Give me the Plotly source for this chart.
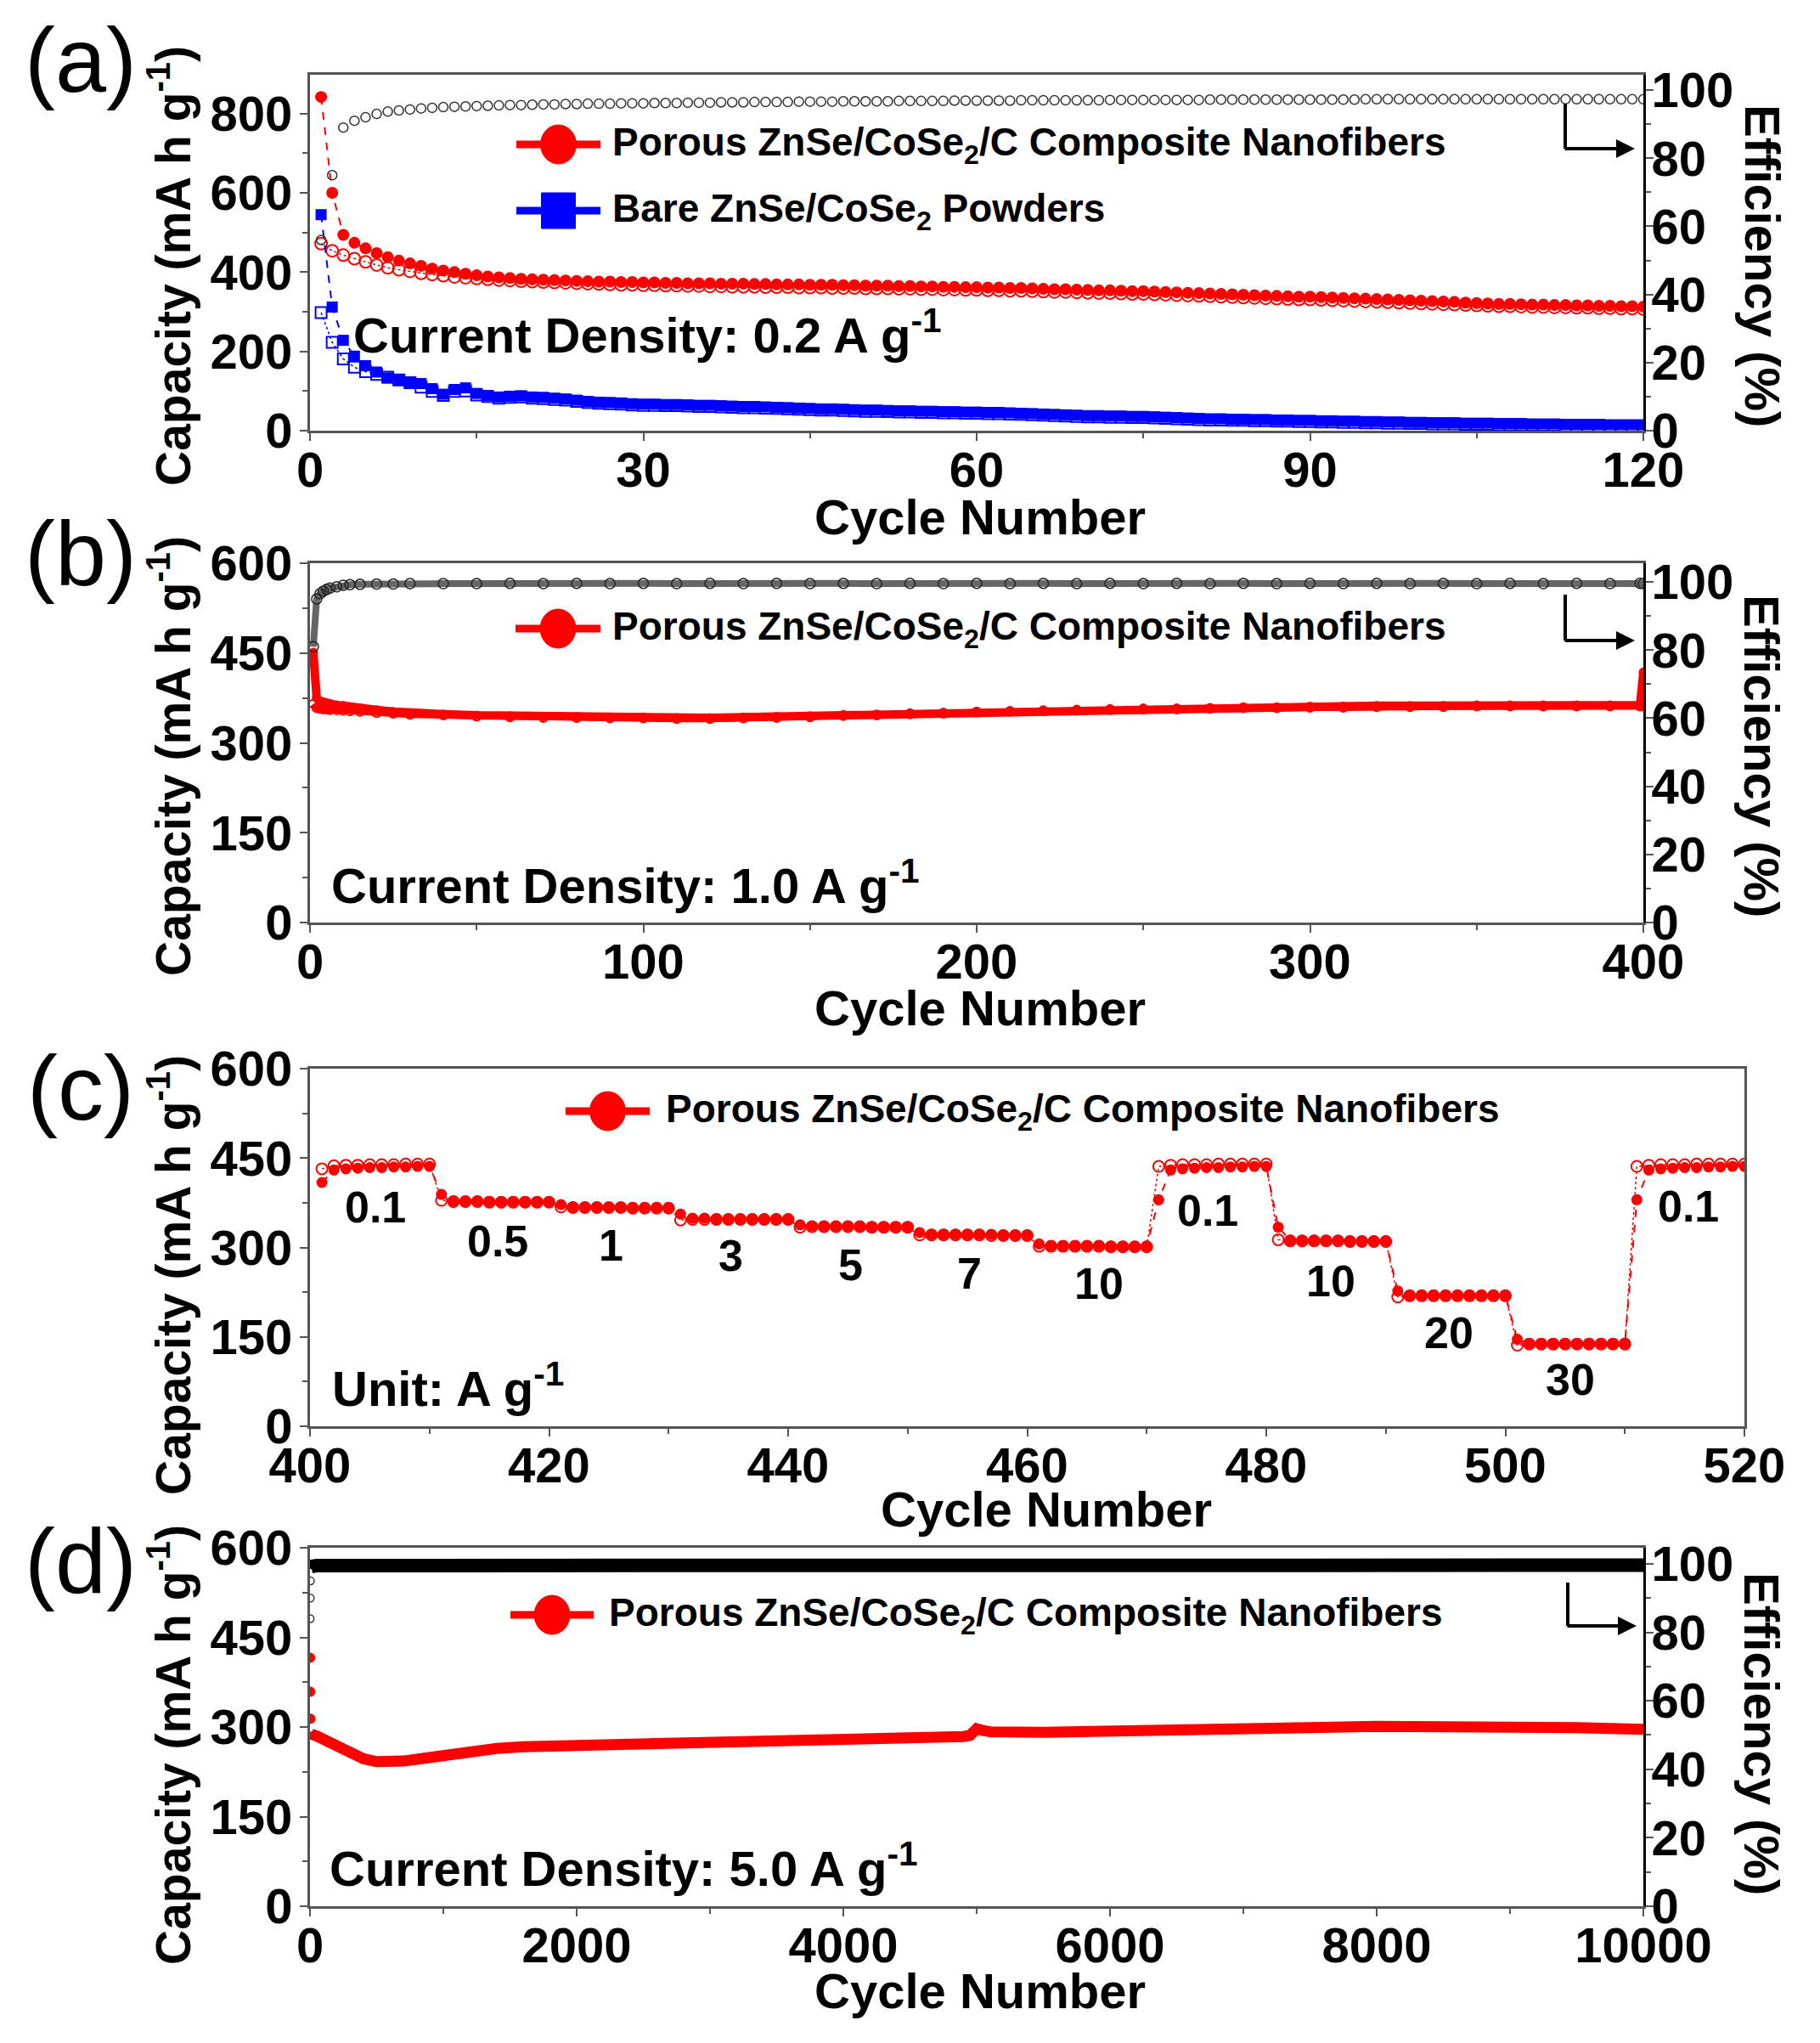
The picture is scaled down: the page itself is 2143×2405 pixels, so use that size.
import plotly.graph_objects as go

# ---- data ----
# (a) 0.2 A/g, 120 cycles
cycle_a = list(range(1, 121))
red_dis_a = [842, 600, 494, 474, 460, 448, 438, 429, 422, 416,
             409, 404, 400, 396, 392, 389, 387, 385, 383, 382,
             381, 380, 379, 378, 377, 376, 376, 375, 375, 374,
             374, 373, 373, 372, 372, 372, 371, 371, 371, 370,
             370, 369, 369, 369, 368, 368, 368, 367, 367, 366,
             366, 366, 365, 365, 364, 364, 363, 363, 362, 362,
             361, 361, 360, 360, 359, 358, 357, 357, 356, 355,
             354, 354, 353, 352, 352, 351, 350, 349, 348, 347,
             346, 345, 344, 343, 342, 341, 340, 339, 338, 338,
             337, 336, 335, 334, 333, 332, 331, 330, 329, 328,
             327, 326, 325, 323, 322, 321, 320, 320, 319, 318,
             318, 317, 317, 316, 316, 315, 315, 314, 314, 313]
red_cha_a = [472, 454, 443, 434, 426, 418, 411, 406, 402, 397,
             394, 391, 388, 386, 384, 382, 380, 379, 377, 376,
             375, 374, 373, 372, 371, 370, 369, 368, 368, 367,
             367, 366, 366, 365, 365, 364, 364, 363, 363, 363,
             362, 362, 362, 361, 361, 361, 360, 360, 360, 359,
             359, 359, 358, 358, 357, 357, 356, 356, 355, 355,
             354, 354, 353, 353, 352, 351, 350, 350, 349, 348,
             347, 347, 346, 345, 345, 344, 343, 342, 341, 340,
             339, 338, 337, 336, 335, 334, 333, 332, 331, 331,
             330, 329, 328, 327, 326, 325, 324, 323, 322, 321,
             320, 319, 318, 317, 316, 315, 314, 314, 313, 312,
             312, 311, 311, 310, 310, 309, 309, 308, 308, 307]
blue_dis_a = [545, 312, 228, 188, 164, 148, 133, 128, 122, 119,
              106, 92, 104, 108, 94, 89, 85, 87, 88, 85,
              84, 82, 80, 77, 74, 72, 71, 70, 68, 67,
              67, 66, 66, 65, 64, 64, 63, 62, 61, 61,
              60, 59, 58, 57, 56, 55, 55, 54, 53, 52,
              52, 51, 50, 50, 49, 49, 48, 48, 47, 47,
              46, 46, 45, 44, 43, 42, 41, 40, 39, 38,
              38, 37, 37, 36, 36, 35, 34, 33, 32, 31,
              30, 30, 29, 29, 28, 28, 27, 27, 26, 26,
              25, 25, 24, 24, 23, 23, 22, 22, 21, 21,
              20, 20, 20, 19, 19, 19, 18, 18, 18, 17,
              17, 17, 16, 16, 16, 16, 15, 15, 15, 15]
blue_cha_a = [298, 223, 181, 160, 149, 142, 135, 128, 121, 110,
              99, 89, 99, 100, 90, 86, 82, 84, 85, 82,
              81, 79, 77, 74, 71, 69, 68, 67, 65, 64,
              64, 63, 63, 62, 61, 61, 60, 59, 58, 58,
              57, 56, 55, 54, 53, 52, 52, 51, 50, 49,
              49, 48, 47, 47, 46, 46, 45, 45, 44, 44,
              43, 43, 42, 41, 40, 39, 38, 37, 36, 35,
              35, 34, 34, 33, 33, 32, 31, 30, 29, 28,
              27, 27, 26, 26, 25, 25, 24, 24, 23, 23,
              22, 22, 21, 21, 20, 20, 19, 19, 18, 18,
              17, 17, 17, 16, 16, 16, 15, 15, 15, 14,
              14, 14, 13, 13, 13, 13, 12, 12, 12, 12]
eff_a = [56, 75, 89, 91, 92, 93, 93.7, 94, 94.3, 94.6,
         94.8, 95, 95.1, 95.2, 95.3, 95.4, 95.5, 95.6, 95.6, 95.7,
         95.8, 95.8, 95.9, 95.9, 96, 96, 96, 96.1, 96.1, 96.1,
         96.2, 96.2, 96.2, 96.3, 96.3, 96.3, 96.4, 96.4, 96.4, 96.5,
         96.5, 96.5, 96.5, 96.6, 96.6, 96.6, 96.6, 96.7, 96.7, 96.7,
         96.7, 96.7, 96.8, 96.8, 96.8, 96.8, 96.8, 96.9, 96.9, 96.9,
         96.9, 96.9, 96.9, 97, 97, 97, 97, 97, 97, 97,
         97, 97.1, 97.1, 97.1, 97.1, 97.1, 97.1, 97.1, 97.1, 97.1,
         97.2, 97.2, 97.2, 97.2, 97.2, 97.2, 97.2, 97.2, 97.2, 97.2,
         97.2, 97.2, 97.2, 97.2, 97.3, 97.3, 97.3, 97.3, 97.3, 97.3,
         97.3, 97.3, 97.3, 97.3, 97.3, 97.3, 97.3, 97.3, 97.3, 97.3,
         97.3, 97.3, 97.3, 97.3, 97.3, 97.3, 97.3, 97.3, 97.3, 97.3]

# (b) 1.0 A/g, 400 cycles
cycle_b = [1, 2, 3, 4, 5, 6, 8, 10, 12, 15, 20, 25, 30, 40, 50, 60, 70, 80, 90, 100,
           110, 120, 130, 140, 150, 160, 170, 180, 190, 200, 210, 220, 230, 240, 250,
           260, 270, 280, 290, 300, 310, 320, 330, 340, 350, 360, 370, 380, 390, 399, 400]
red_dis_b = [451, 375, 370, 368, 366, 365, 363, 362, 360, 358, 355, 352, 350, 348, 346, 345, 344, 344, 343, 343,
             342, 342, 343, 344, 345, 347, 348, 350, 351, 353, 354, 355, 356, 357, 358,
             358, 359, 360, 360, 361, 361, 362, 362, 362, 363, 363, 363, 363, 363, 363, 418]
red_cha_b = [365, 358, 357, 356, 356, 355, 355, 354, 353, 352, 350, 349, 347, 346, 344, 343, 342, 342, 341, 341,
             340, 340, 341, 342, 343, 345, 346, 348, 349, 351, 352, 353, 354, 355, 356,
             356, 357, 358, 358, 359, 359, 360, 360, 360, 361, 361, 361, 361, 361, 361, 361]
eff_b = [81, 95, 96.5, 97.3, 97.8, 98.2, 98.6, 99, 99.2, 99.3, 99.4, 99.4, 99.5, 99.5, 99.5, 99.6, 99.5, 99.6, 99.5, 99.6,
         99.5, 99.6, 99.5, 99.6, 99.5, 99.6, 99.5, 99.6, 99.5, 99.6, 99.5, 99.6, 99.5, 99.6, 99.5,
         99.6, 99.5, 99.6, 99.5, 99.6, 99.5, 99.6, 99.5, 99.6, 99.5, 99.6, 99.5, 99.6, 99.5, 99.6, 99.5]

# (c) rate test, cycles 401-520
cycle_c = list(range(401, 521))
red_dis_c = [409, 430, 432, 433, 434, 434, 435, 435, 436, 436,
             389, 378, 377, 377, 377, 377, 377, 376, 376, 376,
             372, 368, 368, 368, 367, 367, 367, 367, 367, 367,
             356, 349, 349, 348, 348, 348, 348, 348, 348, 348,
             338, 336, 336, 336, 336, 335, 335, 335, 335, 335,
             325, 322, 322, 322, 322, 322, 322, 321, 321, 321,
             306, 303, 303, 303, 303, 303, 302, 302, 302, 302,
             380, 430, 432, 433, 434, 434, 435, 435, 436, 436,
             334, 312, 312, 312, 312, 312, 311, 311, 311, 311,
             227, 220, 220, 220, 220, 220, 220, 220, 220, 220,
             146, 139, 139, 139, 139, 139, 139, 139, 139, 139,
             380, 430, 432, 433, 434, 434, 435, 435, 436, 436]
red_cha_c = [432, 437, 438, 438, 439, 439, 439, 440, 440, 440,
             379, 377, 377, 377, 376, 376, 376, 376, 376, 376,
             368, 367, 367, 367, 367, 367, 366, 366, 366, 366,
             346, 347, 347, 347, 347, 347, 347, 347, 347, 347,
             334, 335, 335, 335, 335, 335, 334, 334, 334, 334,
             321, 321, 321, 321, 321, 321, 320, 320, 320, 320,
             302, 302, 302, 302, 302, 302, 301, 301, 301, 301,
             436, 438, 439, 439, 439, 440, 440, 440, 440, 440,
             313, 311, 311, 311, 311, 311, 310, 310, 310, 310,
             217, 219, 219, 219, 219, 219, 219, 219, 219, 219,
             136, 138, 138, 138, 138, 138, 138, 138, 138, 138,
             436, 438, 439, 439, 439, 440, 440, 440, 440, 440]
rate_labels = ["0.1", "0.5", "1", "3", "5", "7", "10", "0.1", "10", "20", "30", "0.1"]

# (d) 5.0 A/g, 10000 cycles
cycle_d_early = [1, 2, 3]
red_d_early = [416, 359, 314]
cycle_d = [4, 10, 50, 100, 200, 300, 400, 500, 600, 700, 800, 1000, 1200, 1400, 1600, 1800, 2000,
           2500, 3000, 3500, 4000, 4500, 4900, 4950, 5000, 5050, 5100, 5500, 6000, 6500, 7000,
           7500, 8000, 8500, 9000, 9500, 10000]
red_d = [292, 288, 285, 279, 268, 257, 247, 242, 241, 243, 246, 253, 259, 264, 267, 268, 269,
         271, 272, 274, 278, 281, 284, 286, 297, 294, 292, 291, 292, 294, 297,
         299, 301, 301, 300, 299, 296]
eff_d_early = [84, 90, 95]
cycle_eff_d = [4, 10, 50, 100, 500, 1000, 2000, 3000, 4000, 5000, 6000, 7000, 8000, 9000, 10000]
eff_d = [98.5, 99.2, 99.5, 99.5, 99.6, 99.5, 99.6, 99.5, 99.6, 99.5, 99.6, 99.5, 99.6, 99.5, 99.6]

# ---- figure ----
W, H = 2143, 2405
FONT = "Liberation Sans"
RED, BLUE = "#ff0000", "#0000ff"
AX = "#555555"


def px(x):
    return x / W


def py(y):
    return 1 - y / H


fig = go.Figure()

# panel (a)
fig.add_trace(go.Scatter(x=cycle_a, y=red_cha_a, mode="lines+markers", xaxis="x", yaxis="y",
                         line=dict(color=RED, width=1.5, dash="dot"),
                         marker=dict(symbol="circle-open", size=14, color=RED, line=dict(width=2))))
fig.add_trace(go.Scatter(x=cycle_a, y=red_dis_a, mode="lines+markers", xaxis="x", yaxis="y",
                         line=dict(color=RED, width=2, dash="dash"),
                         marker=dict(symbol="circle", size=14, color=RED)))
fig.add_trace(go.Scatter(x=cycle_a, y=blue_cha_a, mode="lines+markers", xaxis="x", yaxis="y",
                         line=dict(color=BLUE, width=1.5, dash="dot"),
                         marker=dict(symbol="square-open", size=13, color=BLUE, line=dict(width=2))))
fig.add_trace(go.Scatter(x=cycle_a, y=blue_dis_a, mode="lines+markers", xaxis="x", yaxis="y",
                         line=dict(color=BLUE, width=2, dash="dash"),
                         marker=dict(symbol="square", size=13, color=BLUE)))
fig.add_trace(go.Scatter(x=cycle_a, y=eff_a, mode="markers", xaxis="x", yaxis="y2",
                         marker=dict(symbol="circle-open", size=11, color="#333333", line=dict(width=1.5))))

# panel (b)
fig.add_trace(go.Scatter(x=cycle_b, y=red_cha_b, mode="lines+markers", xaxis="x2", yaxis="y3",
                         line=dict(color=RED, width=8),
                         marker=dict(symbol="circle-open", size=10, color=RED, line=dict(width=2))))
fig.add_trace(go.Scatter(x=cycle_b, y=red_dis_b, mode="lines+markers", xaxis="x2", yaxis="y3",
                         line=dict(color=RED, width=10),
                         marker=dict(symbol="circle", size=11, color=RED)))
fig.add_trace(go.Scatter(x=cycle_b, y=eff_b, mode="lines+markers", xaxis="x2", yaxis="y4",
                         line=dict(color="#666666", width=8),
                         marker=dict(symbol="circle-open", size=12, color="#222222", line=dict(width=1.5))))

# panel (c)
fig.add_trace(go.Scatter(x=cycle_c, y=red_cha_c, mode="lines+markers", xaxis="x3", yaxis="y5",
                         line=dict(color=RED, width=1.5, dash="dot"),
                         marker=dict(symbol="circle-open", size=13, color=RED, line=dict(width=2))))
fig.add_trace(go.Scatter(x=cycle_c, y=red_dis_c, mode="lines+markers", xaxis="x3", yaxis="y5",
                         line=dict(color=RED, width=2, dash="dash"),
                         marker=dict(symbol="circle", size=13, color=RED)))

# panel (d)
fig.add_trace(go.Scatter(x=cycle_d_early, y=red_d_early, mode="markers", xaxis="x4", yaxis="y6",
                         marker=dict(symbol="circle", size=12, color=RED)))
fig.add_trace(go.Scatter(x=cycle_d, y=red_d, mode="lines", xaxis="x4", yaxis="y6",
                         line=dict(color=RED, width=13)))
fig.add_trace(go.Scatter(x=cycle_d_early, y=eff_d_early, mode="markers", xaxis="x4", yaxis="y7",
                         marker=dict(symbol="circle-open", size=9, color="#333333", line=dict(width=1.5))))
fig.add_trace(go.Scatter(x=cycle_eff_d, y=eff_d, mode="lines", xaxis="x4", yaxis="y7",
                         line=dict(color="black", width=16)))

tickfont = dict(family=FONT, size=58, color="black", weight="bold")


def xax(dom, anchor, rng, dtick, minor):
    return dict(domain=dom, anchor=anchor, range=rng, dtick=dtick, tick0=rng[0], tickformat="d",
                showline=True, linecolor=AX, linewidth=3, mirror=True, automargin=False,
                ticks="outside", ticklen=9, tickwidth=2, tickcolor=AX,
                minor=dict(ticks="outside", ticklen=6, dtick=minor, tickcolor=AX),
                tickfont=tickfont, showgrid=False, zeroline=False, ticklabelstandoff=-16)


def yax(dom, anchor, rng, dtick, minor):
    return dict(domain=dom, anchor=anchor, range=rng, dtick=dtick, tick0=0, automargin=False,
                showline=True, linecolor=AX, linewidth=3, mirror=True,
                ticks="outside", ticklen=9, tickwidth=2, tickcolor=AX,
                minor=dict(ticks="outside", ticklen=6, dtick=minor, tickcolor=AX),
                tickfont=tickfont, showgrid=False, zeroline=False, ticklabelstandoff=-3)


def y2ax(over, anchor, rng):
    return dict(overlaying=over, anchor=anchor, side="right", range=rng, dtick=20, tick0=0,
                showline=True, linecolor="black", linewidth=3, automargin=False,
                ticks="outside", ticklen=9, tickwidth=2, tickcolor=AX,
                minor=dict(ticks="outside", ticklen=6, dtick=10, tickcolor=AX),
                tickfont=tickfont, showgrid=False, zeroline=False, ticklabelstandoff=-14)


xd = [px(357), px(1927)]
dom_a = [py(499), py(80)]
dom_b = [py(1078), py(655)]
dom_c = [py(1671), py(1250)]
dom_d = [py(2236), py(1814)]

fig.update_layout(
    width=W, height=H, margin=dict(l=0, r=0, t=0, b=0, autoexpand=False),
    paper_bgcolor="white", plot_bgcolor="white", showlegend=False,
    xaxis=xax(xd, "y", [0, 120], 30, 15),
    yaxis=yax(dom_a, "x", [0, 898], 200, 100),
    yaxis2=y2ax("y", "x", [0, 104.5]),
    xaxis2=xax(xd, "y3", [0, 400], 100, 50),
    yaxis3=yax(dom_b, "x2", [0, 600], 150, 75),
    yaxis4=y2ax("y3", "x2", [0, 105.5]),
    xaxis3=xax([px(357), px(2046)], "y5", [400, 520], 20, 10),
    yaxis5=yax(dom_c, "x3", [0, 600], 150, 75),
    xaxis4=xax(xd, "y6", [0, 10000], 2000, 1000),
    yaxis6=yax(dom_d, "x4", [0, 600], 150, 75),
    yaxis7=y2ax("y6", "x4", [0, 104.7]),
)

ann = []
shapes = []


def text(x, y, s, size, bold=True, angle=0, xanchor="center"):
    ann.append(dict(x=px(x), y=py(y), xref="paper", yref="paper", text=s, showarrow=False,
                    textangle=angle, xanchor=xanchor, yanchor="middle",
                    font=dict(family=FONT, size=size, color="black",
                              weight="bold" if bold else "normal")))


def legend_item(x0, x1, y, color, symbol, tx, label):
    cx = (x0 + x1) / 2
    shapes.append(dict(type="line", xref="paper", yref="paper", x0=px(x0), x1=px(x1),
                       y0=py(y), y1=py(y), line=dict(color=color, width=9)))
    if symbol == "circle":
        shapes.append(dict(type="circle", xref="paper", yref="paper", x0=px(cx - 21), x1=px(cx + 21),
                           y0=py(y + 23), y1=py(y - 23), fillcolor=color, line=dict(color=color, width=1)))
    else:
        shapes.append(dict(type="rect", xref="paper", yref="paper", x0=px(cx - 20), x1=px(cx + 20),
                           y0=py(y + 21), y1=py(y - 21), fillcolor=color, line=dict(color=color, width=1)))
    text(tx, y, label, 46, xanchor="left")


def bent_arrow(x, y0, y1, x1):
    shapes.append(dict(type="line", xref="paper", yref="paper", x0=px(x), x1=px(x),
                       y0=py(y0), y1=py(y1), line=dict(color="black", width=4)))
    ann.append(dict(x=px(x1), y=py(y1), xref="paper", yref="paper", text="", showarrow=True,
                    axref="pixel", ayref="pixel", ax=-(x1 - x) - 2, ay=0,
                    arrowhead=2, arrowsize=1.1, arrowwidth=4, arrowcolor="black"))


cap_title = "Capacity (mA h g<sup>-1</sup>)"
eff_title = "Efficiency (%)"
porous = "Porous ZnSe/CoSe<sub>2</sub>/C Composite Nanofibers"
TS = 58

# (a)
text(87, 62, "(a)", 108, bold=False)
text(192, 305, cap_title, TS - 1, angle=-90)
text(2067, 305, eff_title, TS, angle=90)
text(1146, 601, "Cycle Number", TS)
legend_item(600, 699, 162, RED, "circle", 711, porous)
legend_item(600, 699, 240, BLUE, "square", 711, "Bare ZnSe/CoSe<sub>2</sub> Powders")
text(406, 382, "Current Density: 0.2 A g<sup>-1</sup>", TS, xanchor="left")
bent_arrow(1835, 114, 167, 1917)

# (b)
text(87, 643, "(b)", 108, bold=False)
text(192, 882, cap_title, TS - 1, angle=-90)
text(2067, 882, eff_title, TS, angle=90)
text(1146, 1178, "Cycle Number", TS)
legend_item(599, 699, 732, RED, "circle", 711, porous)
text(380, 1030, "Current Density: 1.0 A g<sup>-1</sup>", TS, xanchor="left")
bent_arrow(1835, 692, 746, 1917)

# (c)
text(87, 1272, "(c)", 108, bold=False)
text(192, 1493, cap_title, TS - 1, angle=-90)
text(1224, 1768, "Cycle Number", TS)
legend_item(658, 757, 1300, RED, "circle", 774, porous)
text(381, 1622, "Unit: A g<sup>-1</sup>", TS, xanchor="left")
rate_label_pos = [(405.5, 367), (415.7, 311), (425.2, 303), (435.2, 287), (445.2, 271), (455.2, 257),
                  (466, 240), (475.1, 362), (485.4, 243), (495.3, 157), (505.4, 78), (515.3, 369)]
for lab, (lx, ly) in zip(rate_labels, rate_label_pos):
    ann.append(dict(x=lx, y=ly, xref="x3", yref="y5", text=lab, showarrow=False,
                    font=dict(family=FONT, size=52, color="black", weight="bold")))

# (d)
text(87, 1829, "(d)", 108, bold=False)
text(192, 2046, cap_title, TS - 1, angle=-90)
text(2067, 2033, eff_title, TS, angle=90)
text(1146, 2335, "Cycle Number", TS)
legend_item(593, 691, 1893, RED, "circle", 707, porous)
text(378, 2187, "Current Density: 5.0 A g<sup>-1</sup>", TS, xanchor="left")
bent_arrow(1838, 1855, 1906, 1919)

fig.update_layout(annotations=ann, shapes=shapes)
fig.write_html("out.html")
